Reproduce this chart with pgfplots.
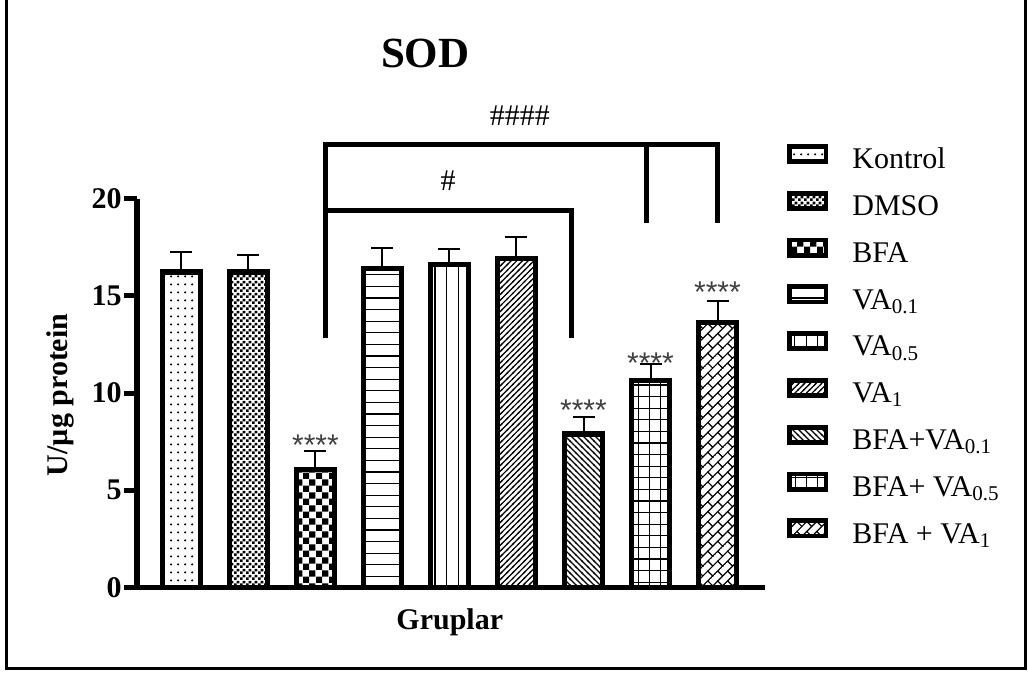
\documentclass[border=0pt]{standalone}
\usepackage{pgfplots}
\pgfplotsset{compat=1.18}
\usepackage{fontspec}
\setmainfont{Liberation Serif}
\newfontfamily\starfont{Liberation Sans}
\usetikzlibrary{patterns.meta}

\tikzdeclarepattern{name=pdots, type=uncolored, bounding box={(0,0) and (3.5pt,3.8pt)}, tile size={(3.5pt,3.8pt)}, code={\fill (1.75pt,1.9pt) circle (0.65pt);}}
\tikzdeclarepattern{name=pchkfine, type=uncolored, bounding box={(0,0) and (3pt,3pt)}, tile size={(3pt,3pt)}, code={\fill (0,0) rectangle (1.5pt,1.5pt); \fill (1.5pt,1.5pt) rectangle (3pt,3pt);}}
\tikzdeclarepattern{name=pchkbig, type=uncolored, bounding box={(0,0) and (6.6pt,6.6pt)}, tile size={(6.6pt,6.6pt)}, code={\fill (0,0) rectangle (3.3pt,3.3pt); \fill (3.3pt,3.3pt) rectangle (6.6pt,6.6pt);}}
\tikzdeclarepattern{name=phlines, type=uncolored, bounding box={(-0.1pt,0) and (1.1pt,5.8pt)}, tile size={(1pt,5.8pt)}, code={\draw[line width=0.6pt] (-0.1pt,2.9pt) -- (1.1pt,2.9pt);}}
\tikzdeclarepattern{name=pvlines, type=uncolored, bounding box={(0,-0.1pt) and (5.8pt,1.1pt)}, tile size={(5.8pt,1pt)}, code={\draw[line width=0.6pt] (2.9pt,-0.1pt) -- (2.9pt,1.1pt);}}
\tikzdeclarepattern{name=pne, type=uncolored, bounding box={(-0.5pt,-0.5pt) and (3.35pt,3.35pt)}, tile size={(2.85pt,2.85pt)}, code={\draw[line width=0.6pt] (-0.5pt,-0.5pt) -- (3.35pt,3.35pt);}}
\tikzdeclarepattern{name=pnw, type=uncolored, bounding box={(-0.5pt,-0.5pt) and (3.5pt,3.5pt)}, tile size={(3pt,3pt)}, code={\draw[line width=0.6pt] (-0.5pt,3.5pt) -- (3.5pt,-0.5pt);}}
\tikzdeclarepattern{name=pgrid, type=uncolored, bounding box={(-0.3pt,-0.3pt) and (5.9pt,6.1pt)}, tile size={(5.6pt,5.8pt)}, code={\draw[line width=0.6pt] (0,-0.3pt) -- (0,6.1pt) (-0.3pt,0) -- (5.9pt,0);}}
\tikzdeclarepattern{name=pbrick, type=uncolored, bounding box={(-0.3pt,-0.3pt) and (7.3pt,7.3pt)}, tile size={(7pt,7pt)}, tile transformation={rotate=45}, code={\draw[line width=0.6pt] (-0.3pt,0) -- (7.3pt,0) (-0.3pt,3.5pt) -- (7.3pt,3.5pt) (0,0) -- (0,3.5pt) (3.5pt,3.5pt) -- (3.5pt,7pt);}}

\begin{document}
\begin{tikzpicture}
\useasboundingbox (0,0) rectangle (514pt,337.5pt);
\draw[line width=1.5pt] (3pt,340pt) -- (3pt,3.5pt) -- (512.5pt,3.5pt) -- (512.5pt,340pt);
\begin{axis}[
  at={(68.5pt,43.75pt)}, anchor=south west,
  scale only axis, width=314pt, height=194.5pt,
  xmin=-0.664, xmax=8.709, ymin=0, ymax=20,
  clip=false,
  axis x line=bottom, axis y line=left,
  axis line style={line width=2.7pt, -},
  xtick=\empty,
  ytick={0,5,10,15,20},
  yticklabels={0,5,10,15,20},
  tick align=outside,
  major tick length=6.5pt,
  ytick style={line width=2.5pt, black},
  yticklabel style={font=\bfseries\fontsize{15}{15}\selectfont, inner sep=1pt},
  xlabel={Gruplar}, ylabel={U/µg protein},
  label style={font=\bfseries\fontsize{15}{15}\selectfont},
  xlabel style={at={(rel axis cs:0.498,-0.109)}, anchor=base},
  ylabel style={at={(rel axis cs:-0.111,0.495)}, anchor=base},
  title={SOD},
  title style={at={(rel axis cs:0.459,1.305)}, anchor=base, font=\bfseries\fontsize{21.5}{21.5}\selectfont},
  legend style={at={(rel axis cs:1.035,1.141)}, anchor=north west, draw=none, fill=none,
    font=\fontsize{15}{15}\selectfont, inner sep=0pt, row sep=7.1pt,
    nodes={text height=11pt, text depth=4pt, inner sep=0pt},
    /tikz/every odd column/.append style={column sep=12pt}},
  legend cell align=left,
  mybar/.style={ybar, bar width=18.75pt, bar shift=0pt, draw=black, line width=2.7pt,
    legend image code/.code={\draw[##1, line width=2.4pt] (1.2pt,0pt) rectangle (19.3pt,7.6pt);},
    /pgfplots/error bars/y dir=plus, /pgfplots/error bars/y explicit,
    /pgfplots/error bars/error mark=-,
    /pgfplots/error bars/error bar style={line width=1pt, black},
    /pgfplots/error bars/error mark options={rotate=90, line width=1pt, black, mark size=5.5pt}},
]
\addplot[mybar, pattern=pdots] coordinates {(0,16.22) +- (0,1.03)};
\addlegendentry{Kontrol}
\addplot[mybar, pattern=pchkfine] coordinates {(1,16.22) +- (0,0.86)};
\addlegendentry{DMSO}
\addplot[mybar, pattern=pchkbig] coordinates {(2,6.06) +- (0,0.98)};
\addlegendentry{BFA}
\addplot[mybar, pattern=phlines] coordinates {(3,16.39) +- (0,1.05)};
\addlegendentry{VA\textsubscript{0.1}}
\addplot[mybar, pattern=pvlines] coordinates {(4,16.60) +- (0,0.78)};
\addlegendentry{VA\textsubscript{0.5}}
\addplot[mybar, pattern=pne] coordinates {(5,16.90) +- (0,1.13)};
\addlegendentry{VA\textsubscript{1}}
\addplot[mybar, pattern=pnw] coordinates {(6,7.89) +- (0,0.89)};
\addlegendentry{BFA+VA\textsubscript{0.1}}
\addplot[mybar, pattern=pgrid] coordinates {(7,10.63) +- (0,0.86)};
\addlegendentry{BFA+ VA\textsubscript{0.5}}
\addplot[mybar, pattern=pbrick] coordinates {(8,13.62) +- (0,1.11)};
\addlegendentry{BFA + VA\textsubscript{1}}

% significance stars
\node[font=\starfont\fontsize{15}{15}\selectfont, text=black!75, anchor=base] at (axis cs:2,6.79) {****};
\node[font=\starfont\fontsize{15}{15}\selectfont, text=black!75, anchor=base] at (axis cs:6,8.59) {****};
\node[font=\starfont\fontsize{15}{15}\selectfont, text=black!75, anchor=base] at (axis cs:7,11.00) {****};
\node[font=\starfont\fontsize{15}{15}\selectfont, text=black!75, anchor=base] at (axis cs:8,14.65) {****};

% brackets
\draw[line width=2.5pt] (axis cs:2.145,12.82) -- (axis cs:2.145,22.77) -- (axis cs:8.005,22.77) -- (axis cs:8.005,18.75);
\draw[line width=2.5pt] (axis cs:6.943,22.77) -- (axis cs:6.943,18.75);
\draw[line width=2.5pt] (axis cs:2.145,19.40) -- (axis cs:5.825,19.40) -- (axis cs:5.825,12.82);
\node[font=\fontsize{15}{15}\selectfont, anchor=base] at (axis cs:5.05,23.77) {\#\#\#\#};
\node[font=\fontsize{15}{15}\selectfont, anchor=base] at (axis cs:3.98,20.43) {\#};
\end{axis}
\end{tikzpicture}
\end{document}
